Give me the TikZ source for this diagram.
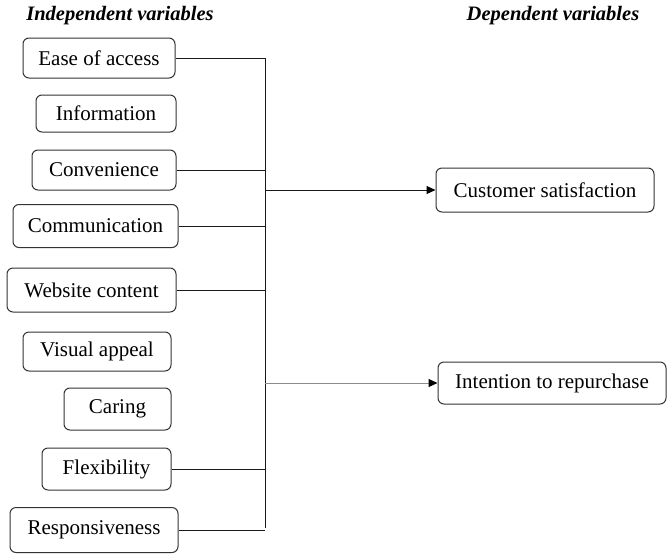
\documentclass[tikz,border=0pt]{standalone}
\usepackage{fontspec}
\setmainfont{Liberation Serif}
\usetikzlibrary{arrows.meta}
\begin{document}
\begin{tikzpicture}[x=1pt,y=-1pt,
  box/.style={draw=black!80, line width=1pt, rounded corners=6pt, minimum height=40pt, inner sep=0pt, font=\fontsize{21}{24}\selectfont},
  conn/.style={draw=black!90, line width=1pt},
  arr/.style={conn, -{Triangle[length=9pt,width=8pt,color=black]}},
  title/.style={font=\fontsize{20.5}{24}\selectfont\bfseries\itshape, inner sep=0pt}]
\useasboundingbox (0,0) rectangle (667,555);
\node[title] (tind) at (120,16) {Independent variables};
\node[title] (tdep) at (553,16) {Dependent variables};
\node[box, minimum width=152pt] (ease) at (99,58) {Ease of access};
\node[box, minimum width=140pt, minimum height=37pt] (info) at (106,113.5) {Information};
\node[box, minimum width=144pt] (conv) at (104,170) {Convenience};
\node[box, minimum width=165pt, minimum height=43pt] (comm) at (95.5,226) {Communication};
\node[box, minimum width=169pt, minimum height=44pt] (web) at (91.5,290) {Website content};
\node[box, minimum width=148pt, minimum height=39pt] (vis) at (97,351.5) {Visual appeal};
\node[box, minimum width=107pt, minimum height=42pt] (car) at (117.5,409) {Caring};
\node[box, minimum width=129pt, minimum height=42pt] (flex) at (106.5,469) {Flexibility};
\node[box, minimum width=168pt, minimum height=45pt] (resp) at (94,530) {Responsiveness};
\node[box, minimum width=218pt, minimum height=44pt] (cs) at (545,190) {Customer satisfaction};
\node[box, minimum width=228pt, minimum height=42pt] (ir) at (552,383) {Intention to repurchase};
\coordinate (bustop) at (265,58);
\coordinate (busbot) at (265,528);
\draw[conn] (bustop) -- (busbot);
\draw[conn] (ease.east) -- (ease.east -| bustop);
\draw[conn] (conv.east) -- (conv.east -| bustop);
\draw[conn] (comm.east) -- (comm.east -| bustop);
\draw[conn] (web.east) -- (web.east -| bustop);
\draw[conn] (flex.east) -- (flex.east -| bustop);
\draw[conn] (resp.east) -- (resp.east -| bustop);
\coordinate (j1) at (cs.west -| bustop);
\coordinate (j2) at (ir.west -| bustop);
\draw[arr] (j1) -- (cs.west);
\draw[arr, draw=black!45] (j2) -- (ir.west);
\end{tikzpicture}
\end{document}
